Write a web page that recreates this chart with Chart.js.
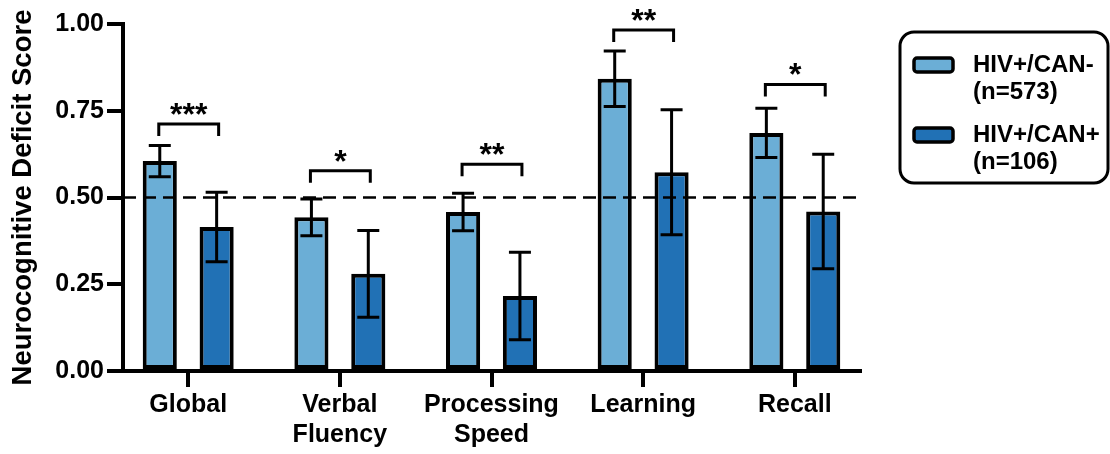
<!DOCTYPE html>
<html>
<head>
<meta charset="utf-8">
<script src="https://cdn.jsdelivr.net/npm/chart.js@4.4.1/dist/chart.umd.min.js"></script>
<style>
    html, body { margin: 0; padding: 0; background: #fff; }
    #box { width: 1110px; height: 454px; }
</style>
</head>
<body>
<div id="box"><canvas id="deficitChart"></canvas></div>
<script>
// Categories (multi-line tick labels)
const categories = [['Global'], ['Verbal', 'Fluency'], ['Processing', 'Speed'], ['Learning'], ['Recall']];
// Groups shown in the legend
const groupLabels = [['HIV+/CAN-', '(n=573)'], ['HIV+/CAN+', '(n=106)']];
// Mean scores and error (+/-) per group
const canNegMeans = [0.605, 0.443, 0.458, 0.842, 0.686];
const canNegErrors = [0.045, 0.053, 0.054, 0.080, 0.071];
const canPosMeans = [0.415, 0.280, 0.216, 0.573, 0.460];
const canPosErrors = [0.100, 0.125, 0.126, 0.180, 0.165];
// Significance brackets
const sigStars = ['***', '*', '**', '**', '*'];
const sigLevels = [0.712, 0.577, 0.596, 0.983, 0.826];
// Y axis ticks and reference line
const yTicks = [0, 0.25, 0.5, 0.75, 1];
const cutoff = 0.5;

const lightBlue = '#6baed6';
const darkBlue = '#2171b5';
const FONT = '"Liberation Sans", Arial, sans-serif';

// Dashed cutoff line, error bars and significance brackets
const overlays = {
    id: 'overlays',
    afterDatasetsDraw(chart) {
        const ctx = chart.ctx;
        const y = chart.scales.y;
        const area = chart.chartArea;
        ctx.save();

        // dashed line at the cutoff
        const yc = y.getPixelForValue(cutoff);
        ctx.strokeStyle = '#000';
        ctx.lineWidth = 2.5;
        ctx.setLineDash([13, 7]);
        ctx.beginPath();
        ctx.moveTo(area.left, yc);
        ctx.lineTo(area.right, yc);
        ctx.stroke();
        ctx.setLineDash([]);

        // error bars
        ctx.lineWidth = 3;
        chart.data.datasets.forEach((ds, d) => {
            const meta = chart.getDatasetMeta(d);
            meta.data.forEach((bar, i) => {
                const v = ds.data[i].y;
                const e = ds.errors[i];
                const top = y.getPixelForValue(v + e);
                const bottom = y.getPixelForValue(v - e);
                ctx.beginPath();
                ctx.moveTo(bar.x, top);
                ctx.lineTo(bar.x, bottom);
                ctx.moveTo(bar.x - 11, top);
                ctx.lineTo(bar.x + 11, top);
                ctx.moveTo(bar.x - 11, bottom);
                ctx.lineTo(bar.x + 11, bottom);
                ctx.stroke();
            });
        });

        // significance brackets
        const m0 = chart.getDatasetMeta(0);
        const m1 = chart.getDatasetMeta(1);
        ctx.lineWidth = 3;
        ctx.fillStyle = '#000';
        ctx.font = 'bold 32px ' + FONT;
        ctx.textAlign = 'center';
        ctx.textBaseline = 'alphabetic';
        sigLevels.forEach((lvl, i) => {
            const by = y.getPixelForValue(lvl);
            const x0 = m0.data[i].x - 1;
            const x1 = m1.data[i].x + 2;
            ctx.beginPath();
            ctx.moveTo(x0, by + 12);
            ctx.lineTo(x0, by);
            ctx.lineTo(x1, by);
            ctx.lineTo(x1, by + 12);
            ctx.stroke();
            ctx.fillText(sigStars[i], (x0 + x1) / 2, by + 1);
        });
        ctx.restore();
    }
};

// Legend with rounded frame and two-line labels
const boxLegend = {
    id: 'boxLegend',
    afterDraw(chart) {
        const ctx = chart.ctx;
        const left = chart.chartArea.right + 40;
        const top = 32;
        const w = 208, h = 151;
        ctx.save();
        ctx.strokeStyle = '#000';
        ctx.lineWidth = 3;
        ctx.beginPath();
        ctx.roundRect(left, top, w, h, 14);
        ctx.stroke();

        ctx.font = 'bold 24px ' + FONT;
        ctx.textAlign = 'left';
        ctx.textBaseline = 'middle';
        chart.data.datasets.forEach((ds, d) => {
            const cy = top + 33 + d * 70;
            ctx.fillStyle = ds.backgroundColor;
            ctx.lineWidth = 3.5;
            ctx.beginPath();
            ctx.roundRect(left + 14, cy - 7, 39, 14, 3);
            ctx.fill();
            ctx.stroke();
            ctx.fillStyle = '#000';
            ds.legendLines.forEach((line, k) => {
                ctx.fillText(line, left + 73, cy + k * 27);
            });
        });
        ctx.restore();
    }
};

function makeData(values) {
    return values.map((v, i) => ({ x: i, y: v }));
}

const ctx = document.getElementById('deficitChart').getContext('2d');
new Chart(ctx, {
    type: 'bar',
    data: {
        datasets: [
            {
                label: groupLabels[0].join(' '),
                legendLines: groupLabels[0],
                data: makeData(canNegMeans),
                errors: canNegErrors,
                backgroundColor: lightBlue,
                borderColor: '#000',
                borderWidth: 4,
                borderSkipped: false
            },
            {
                label: groupLabels[1].join(' '),
                legendLines: groupLabels[1],
                data: makeData(canPosMeans),
                errors: canPosErrors,
                backgroundColor: darkBlue,
                borderColor: '#000',
                borderWidth: 4,
                borderSkipped: false
            }
        ]
    },
    options: {
        responsive: true,
        maintainAspectRatio: false,
        animation: false,
        categoryPercentage: 0.75,
        barPercentage: 0.6,
        layout: { padding: { top: 24, right: 250, left: 0, bottom: 0 } },
        plugins: {
            legend: { display: false },
            tooltip: { enabled: false }
        },
        scales: {
            x: {
                type: 'linear',
                offset: false,
                min: -0.43,
                max: categories.length - 1 + 0.43,
                afterBuildTicks: (axis) => {
                    axis.ticks = categories.map((_, i) => ({ value: i }));
                },
                afterFit: (axis) => { axis.height = 83; },
                border: { display: true, color: '#000', width: 4 },
                grid: { display: true, offset: false, drawOnChartArea: false, drawTicks: true, tickLength: 16, color: '#000', lineWidth: 4 },
                ticks: {
                    autoSkip: false,
                    maxRotation: 0,
                    padding: 3,
                    color: '#000',
                    font: { family: FONT, size: 25, weight: 'bold', lineHeight: 1.2 },
                    callback: (value) => categories[value]
                }
            },
            y: {
                min: 0,
                max: 1,
                afterBuildTicks: (axis) => {
                    axis.ticks = yTicks.map(v => ({ value: v }));
                },
                afterFit: (axis) => { axis.width = 123; },
                border: { display: true, color: '#000', width: 4 },
                grid: { display: true, drawOnChartArea: false, drawTicks: true, tickLength: 16, color: '#000', lineWidth: 4 },
                ticks: {
                    padding: 3,
                    color: '#000',
                    font: { family: FONT, size: 25, weight: 'bold' },
                    callback: (value) => value.toFixed(2)
                },
                title: {
                    display: true,
                    text: 'Neurocognitive Deficit Score',
                    color: '#000',
                    padding: { top: 7, bottom: 0 },
                    font: { family: FONT, size: 27.5, weight: 'bold', lineHeight: 1.2 }
                }
            }
        }
    },
    plugins: [overlays, boxLegend]
});
</script>
</body>
</html>
